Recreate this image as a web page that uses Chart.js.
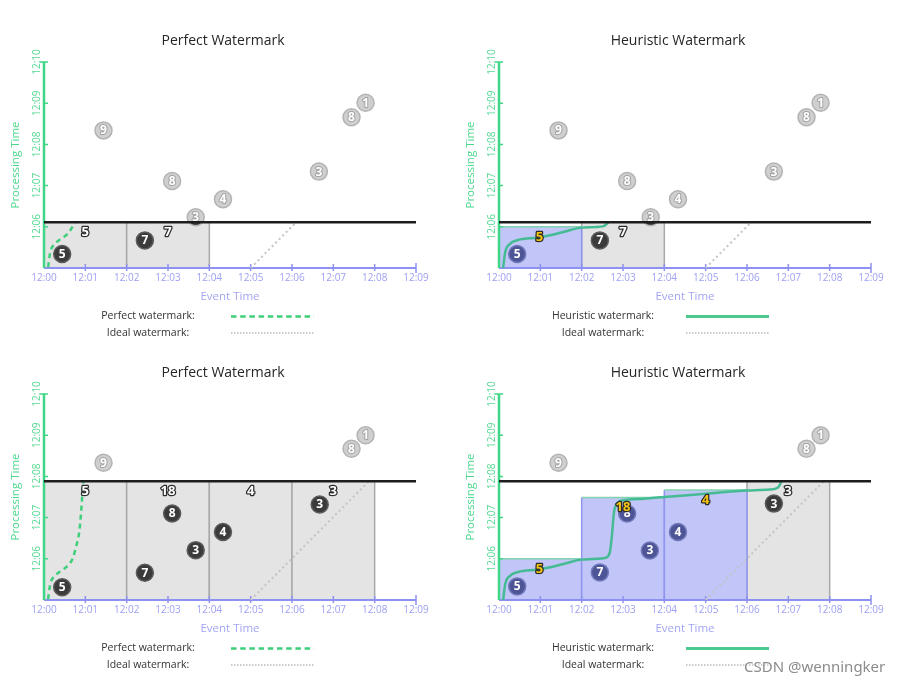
<!DOCTYPE html>
<html><head><meta charset="utf-8">
<script src="https://cdn.jsdelivr.net/npm/chart.js@4.4.1/dist/chart.umd.min.js"></script>
<style>
html,body{margin:0;padding:0;background:#fff;width:901px;height:684px;overflow:hidden;position:relative}
canvas{position:absolute}
#csdn{position:absolute;left:744px;top:656px;font:15px "Noto Sans",sans-serif;color:#8c8c8c;text-shadow:0 0 2px #fff,0 0 2px #fff;white-space:nowrap}
</style></head><body>
<canvas id="cA" width="446" height="352" style="left:0;top:0"></canvas>
<canvas id="cB" width="446" height="352" style="left:455px;top:0"></canvas>
<canvas id="cC" width="446" height="352" style="left:0;top:332px"></canvas>
<canvas id="cD" width="446" height="352" style="left:455px;top:332px"></canvas>
<div id="csdn">CSDN @wenningker</div>
<script>
const FONT = '"Open Sans","Noto Sans",sans-serif';

// Axis ticks (minutes after 12:00)
const eventTickValues = [0,1,2,3,4,5,6,7,8,9];
const eventTickLabels = ['12:00','12:01','12:02','12:03','12:04','12:05','12:06','12:07','12:08','12:09'];
const procTickValues = [6,7,8,9,10];
const procTickLabels = ['12:06','12:07','12:08','12:09','12:10'];

// ---- Panel A: Perfect Watermark (top) ----
const aWatermark = 6.11;
const aGreyX = [1.44,3.10,3.67,4.33,6.65,7.44,7.78];
const aGreyY = [8.34,7.11,6.23,6.67,7.34,8.66,9.01];
const aGreyN = ['9','8','3','4','3','8','1'];
const aDarkX = [0.44,2.44];
const aDarkY = [5.34,5.67];
const aDarkN = ['5','7'];
const aGreyWinStart = [0,2];
const aGreyWinEnd = [2,4];
const aCountX = [1,3];
const aCountY = [5.86,5.87];
const aCountText = ['5','7'];
const aCountYellow = [false,false];
const aCurveX = [0.10,0.15,0.26,0.46,0.60,0.70,0.75];
const aCurveY = [5.02,5.38,5.58,5.74,5.86,6.02,6.11];
const aIdealX = [5,6.1];
const aIdealY = [5,6.11];

// ---- Panel B: Heuristic Watermark (top) ----
const bWatermark = 6.11;
const bGreyX = [1.44,3.10,3.67,4.33,6.65,7.44,7.78];
const bGreyY = [8.34,7.11,6.23,6.67,7.34,8.66,9.01];
const bGreyN = ['9','8','3','4','3','8','1'];
const bDarkX = [2.44];
const bDarkY = [5.67];
const bDarkN = ['7'];
const bBlueX = [0.44];
const bBlueY = [5.34];
const bBlueN = ['5'];
const bGreyWinStart = [2];
const bGreyWinEnd = [4];
const bBlueWinStart = [0];
const bBlueWinEnd = [2];
const bBlueWinTop = [6.0];
const bCountX = [0.98,3];
const bCountY = [5.75,5.87];
const bCountText = ['5','7'];
const bCountYellow = [true,false];
const bCurveX = [0.10,0.15,0.26,0.46,0.94,1.51,2.01,2.52,2.65];
const bCurveY = [5.0,5.38,5.58,5.68,5.74,5.86,5.98,6.01,6.11];
const bIdealX = [5,6.1];
const bIdealY = [5,6.11];

// ---- Panel C: Perfect Watermark (bottom) ----
const cWatermark = 7.88;
const cGreyX = [1.44,7.44,7.78];
const cGreyY = [8.33,8.67,9.0];
const cGreyN = ['9','8','1'];
const cDarkX = [0.44,2.44,3.10,3.67,4.33,6.67];
const cDarkY = [5.31,5.66,7.10,6.21,6.65,7.32];
const cDarkN = ['5','7','8','3','4','3'];
const cGreyWinStart = [0,2,4,6];
const cGreyWinEnd = [2,4,6,8];
const cCountX = [1,3,5,7];
const cCountY = [7.63,7.63,7.63,7.63];
const cCountText = ['5','18','4','3'];
const cCountYellow = [false,false,false,false];
const cCurveX = [0.10,0.15,0.26,0.46,0.60,0.70,0.78,0.85,0.89,0.92,0.94,0.95];
const cCurveY = [5.02,5.38,5.58,5.74,5.86,6.02,6.31,6.63,7.03,7.44,7.76,7.86];
const cIdealX = [5,7.85];
const cIdealY = [5,7.87];

// ---- Panel D: Heuristic Watermark (bottom) ----
const dWatermark = 7.88;
const dGreyX = [1.44,7.44,7.78];
const dGreyY = [8.33,8.67,9.0];
const dGreyN = ['9','8','1'];
const dDarkX = [6.65];
const dDarkY = [7.34];
const dDarkN = ['3'];
const dBlueX = [0.44,2.44,3.10,3.65,4.33];
const dBlueY = [5.33,5.67,7.10,6.20,6.65];
const dBlueN = ['5','7','8','3','4'];
const dGreyWinStart = [6];
const dGreyWinEnd = [8];
const dBlueWinStart = [0,2,4];
const dBlueWinEnd = [2,4,6];
const dBlueWinTop = [6.0,7.49,7.67];
const dCountX = [0.98,3.0,5.0,6.99];
const dCountY = [5.75,7.24,7.42,7.63];
const dCountText = ['5','18','4','3'];
const dCountYellow = [true,true,true,false];
const dCurveX = [0.10,0.15,0.26,0.46,0.94,1.51,2.01,2.56,2.68,2.73,2.78,2.86,3.0,3.5,4.0,5.0,6.0,6.55,6.75,6.83];
const dCurveY = [5.0,5.38,5.58,5.68,5.74,5.86,5.98,6.02,6.15,6.55,7.11,7.35,7.42,7.46,7.5,7.58,7.66,7.68,7.73,7.87];
const dIdealX = [5,7.85];
const dIdealY = [5,7.87];

const COL = {
  grey:'#cfcfcf', greyBorder:'#b4b4b4',
  dark:'#3b3b3b', darkBorder:'#5c5c5c',
  blue:'#4d5597', blueBorder:'#7179ba',
  greyWin:'#e4e4e4', greyWinSide:'#a9a9a9',
  blueWin:'#c1c5f7', blueWinSide:'#9096ef', blueWinTop:'#82d3b0',
  xAxis:'#8d91f1', xText:'#9da0f3',
  yAxis:'#3fd687', yText:'#55d892',
  perfect:'#3dcf7a', heuristic:'#45bb93', ideal:'#c4c4c4', wm:'#1d1d1d'
};

function pts(xs, ys){ return xs.map((x,i)=>({x:x, y:ys[i]})); }

function bubbleSet(xs, ys, ns, kind, wm){
  const fill = COL[kind], border = COL[kind+'Border'];
  return {
    data: pts(xs,ys), nums: ns, kind: kind, showLine:false, order:4,
    pointRadius:8.5, pointHoverRadius:8.5, pointBorderWidth:1.5,
    pointBorderColor: border,
    pointBackgroundColor: function(ctx){
      if (kind !== 'grey' || ctx.type !== 'data' || !ctx.parsed) return fill;
      const ys_ = ctx.chart.scales.y;
      const py = ys_.getPixelForValue(ctx.parsed.y), wy = ys_.getPixelForValue(wm), r = 9;
      if (py - r < wy && py + r > wy) {
        const g = ctx.chart.ctx.createLinearGradient(0, py-r, 0, py+r);
        const t = (wy - (py - r)) / (2*r);
        g.addColorStop(0, fill); g.addColorStop(t, fill);
        g.addColorStop(t, COL.dark); g.addColorStop(1, COL.dark);
        return g;
      }
      return fill;
    }
  };
}

function makePanel(id, p){
  const datasets = [];
  datasets.push({data: pts(p.idealX,p.idealY), borderColor:COL.ideal, borderWidth:2, borderDash:[2,3], pointRadius:0, order:6});
  if (p.greyX) datasets.push(bubbleSet(p.greyX,p.greyY,p.greyN,'grey',p.wm));
  if (p.darkX) datasets.push(bubbleSet(p.darkX,p.darkY,p.darkN,'dark',p.wm));
  if (p.blueX) datasets.push(bubbleSet(p.blueX,p.blueY,p.blueN,'blue',p.wm));
  datasets.push({data: pts(p.curveX,p.curveY), borderColor: p.perfect ? COL.perfect : COL.heuristic,
    borderWidth: 2.5, borderDash: p.perfect ? [5,4] : [], cubicInterpolationMode:'monotone',
    pointRadius:0, order:2});
  datasets.push({data: [{x:0,y:p.wm},{x:9,y:p.wm}], borderColor:COL.wm, borderWidth:2.5, pointRadius:0, order:1});

  const plugin = {
    id:'panel'+id,
    beforeDatasetsDraw(chart){
      const ctx = chart.ctx, xs = chart.scales.x, ys = chart.scales.y;
      const b = ys.getPixelForValue(5);
      ctx.save();
      function rect(x0,x1,top,fill,side,topCol){
        const l = xs.getPixelForValue(x0), r = xs.getPixelForValue(x1), t = ys.getPixelForValue(top);
        ctx.fillStyle = fill; ctx.fillRect(l,t,r-l,b-t);
        ctx.lineWidth = 1.5; ctx.strokeStyle = side;
        ctx.beginPath(); ctx.moveTo(l,b); ctx.lineTo(l,t); ctx.moveTo(r,t); ctx.lineTo(r,b); ctx.stroke();
        if (topCol){ ctx.strokeStyle = topCol; ctx.beginPath(); ctx.moveTo(l,t); ctx.lineTo(r,t); ctx.stroke(); }
      }
      (p.greyWinStart||[]).forEach((s,i)=>rect(s,p.greyWinEnd[i],p.wm,COL.greyWin,COL.greyWinSide,null));
      (p.blueWinStart||[]).forEach((s,i)=>rect(s,p.blueWinEnd[i],p.blueWinTop[i],COL.blueWin,COL.blueWinSide,COL.blueWinTop));
      // x axis
      const x0 = xs.getPixelForValue(0), x9 = xs.getPixelForValue(9);
      ctx.strokeStyle = COL.xAxis; ctx.lineWidth = 2;
      ctx.beginPath(); ctx.moveTo(x0,b); ctx.lineTo(x9,b); ctx.stroke();
      ctx.lineWidth = 1.5; ctx.beginPath();
      eventTickValues.forEach(v=>{ if(v===0) return; const x = xs.getPixelForValue(v); ctx.moveTo(x, b-(v===9?5:4)); ctx.lineTo(x, b+(v===9?5:3)); });
      ctx.stroke();
      ctx.fillStyle = COL.xText; ctx.font = '10px '+FONT; ctx.textAlign='center'; ctx.textBaseline='middle';
      eventTickValues.forEach((v,i)=>ctx.fillText(eventTickLabels[i], xs.getPixelForValue(v), b+10.5));
      ctx.font = '11.5px '+FONT; ctx.fillStyle = '#a2a5f4';
      ctx.fillText('Event Time', (chart.chartArea.left+chart.chartArea.right)/2, b+29);
      // y axis
      const yTop = ys.getPixelForValue(10);
      ctx.strokeStyle = COL.yAxis; ctx.lineWidth = 2.5;
      ctx.beginPath(); ctx.moveTo(x0,b); ctx.lineTo(x0,yTop); ctx.stroke();
      ctx.lineWidth = 1.5; ctx.beginPath();
      procTickValues.forEach(v=>{ const y = ys.getPixelForValue(v); ctx.moveTo(x0-(v===10?4:1), y); ctx.lineTo(x0+4, y); });
      ctx.stroke();
      ctx.fillStyle = COL.yText; ctx.font = '10px '+FONT;
      procTickValues.forEach((v,i)=>{ ctx.save(); ctx.translate(x0-6.5, ys.getPixelForValue(v)); ctx.rotate(-Math.PI/2); ctx.fillText(procTickLabels[i],0,0); ctx.restore(); });
      ctx.font = '11.5px '+FONT; ctx.fillStyle = '#4bd78d';
      ctx.save(); ctx.translate(16, (yTop+b)/2); ctx.rotate(-Math.PI/2); ctx.fillText('Processing Time',0,0); ctx.restore();
      ctx.restore();
    },
    afterDatasetDraw(chart, args){
      const ds = chart.data.datasets[args.index];
      if (!ds.nums) return;
      const ctx = chart.ctx, xs = chart.scales.x, ys = chart.scales.y;
      ctx.save();
      ctx.font = 'bold 12px '+FONT; ctx.textAlign='center'; ctx.textBaseline='middle'; ctx.lineJoin='round';
      ds.data.forEach((pt,i)=>{
        const x = xs.getPixelForValue(pt.x), y = ys.getPixelForValue(pt.y) + 0.5;
        if (ds.kind === 'grey'){ ctx.strokeStyle = '#a3a3a3'; ctx.lineWidth = 2; ctx.strokeText(ds.nums[i],x,y); }
        ctx.fillStyle = '#ffffff'; ctx.fillText(ds.nums[i],x,y);
      });
      ctx.restore();
    },
    afterDatasetsDraw(chart){
      const ctx = chart.ctx, xs = chart.scales.x, ys = chart.scales.y;
      ctx.save();
      ctx.font = 'bold 13px '+FONT; ctx.textAlign='center'; ctx.textBaseline='middle'; ctx.lineJoin='round';
      p.countX.forEach((v,i)=>{
        const x = xs.getPixelForValue(v), y = ys.getPixelForValue(p.countY[i]);
        ctx.strokeStyle = '#2b2b2b'; ctx.lineWidth = 2.5; ctx.strokeText(p.countText[i],x,y);
        ctx.fillStyle = p.countYellow[i] ? '#f4c414' : '#ffffff'; ctx.fillText(p.countText[i],x,y);
      });
      ctx.restore();
    },
    afterDraw(chart){
      const ctx = chart.ctx;
      ctx.save();
      ctx.textAlign='center'; ctx.textBaseline='middle';
      ctx.fillStyle = '#262626'; ctx.font = '14px '+FONT;
      ctx.fillText(p.title, 223, 41.5);
      ctx.fillStyle = '#333'; ctx.font = '10.5px '+FONT;
      ctx.fillText(p.perfect ? 'Perfect watermark:' : 'Heuristic watermark:', 148, 316.5);
      ctx.fillText('Ideal watermark:', 148, 333);
      ctx.beginPath(); ctx.moveTo(231,316.5); ctx.lineTo(314,316.5);
      if (p.perfect){ ctx.strokeStyle = COL.perfect; ctx.lineWidth = 2.5; ctx.setLineDash([5.5,3.7]); }
      else { ctx.strokeStyle = '#4cc98f'; ctx.lineWidth = 3; ctx.setLineDash([]); }
      ctx.stroke();
      ctx.beginPath(); ctx.moveTo(231,333); ctx.lineTo(314,333);
      ctx.strokeStyle = '#cacaca'; ctx.lineWidth = 2; ctx.setLineDash([1.5,1.5]); ctx.stroke();
      ctx.restore();
    }
  };

  return new Chart(document.getElementById(id), {
    type:'line',
    data:{datasets: datasets},
    options:{
      responsive:false, animation:false, events:[],
      layout:{padding:{left:44,right:30,top:62,bottom:84}},
      plugins:{legend:{display:false}, tooltip:{enabled:false}, title:{display:false}},
      scales:{
        x:{type:'linear', min:0, max:9, display:false},
        y:{type:'linear', min:5, max:10, display:false}
      },
      elements:{line:{fill:false}}
    },
    plugins:[plugin]
  });
}

makePanel('cA', {title:'Perfect Watermark', perfect:true, wm:aWatermark,
  greyX:aGreyX, greyY:aGreyY, greyN:aGreyN, darkX:aDarkX, darkY:aDarkY, darkN:aDarkN,
  greyWinStart:aGreyWinStart, greyWinEnd:aGreyWinEnd,
  countX:aCountX, countY:aCountY, countText:aCountText, countYellow:aCountYellow,
  curveX:aCurveX, curveY:aCurveY, idealX:aIdealX, idealY:aIdealY});
makePanel('cB', {title:'Heuristic Watermark', perfect:false, wm:bWatermark,
  greyX:bGreyX, greyY:bGreyY, greyN:bGreyN, darkX:bDarkX, darkY:bDarkY, darkN:bDarkN,
  blueX:bBlueX, blueY:bBlueY, blueN:bBlueN,
  greyWinStart:bGreyWinStart, greyWinEnd:bGreyWinEnd,
  blueWinStart:bBlueWinStart, blueWinEnd:bBlueWinEnd, blueWinTop:bBlueWinTop,
  countX:bCountX, countY:bCountY, countText:bCountText, countYellow:bCountYellow,
  curveX:bCurveX, curveY:bCurveY, idealX:bIdealX, idealY:bIdealY});
makePanel('cC', {title:'Perfect Watermark', perfect:true, wm:cWatermark,
  greyX:cGreyX, greyY:cGreyY, greyN:cGreyN, darkX:cDarkX, darkY:cDarkY, darkN:cDarkN,
  greyWinStart:cGreyWinStart, greyWinEnd:cGreyWinEnd,
  countX:cCountX, countY:cCountY, countText:cCountText, countYellow:cCountYellow,
  curveX:cCurveX, curveY:cCurveY, idealX:cIdealX, idealY:cIdealY});
makePanel('cD', {title:'Heuristic Watermark', perfect:false, wm:dWatermark,
  greyX:dGreyX, greyY:dGreyY, greyN:dGreyN, darkX:dDarkX, darkY:dDarkY, darkN:dDarkN,
  blueX:dBlueX, blueY:dBlueY, blueN:dBlueN,
  greyWinStart:dGreyWinStart, greyWinEnd:dGreyWinEnd,
  blueWinStart:dBlueWinStart, blueWinEnd:dBlueWinEnd, blueWinTop:dBlueWinTop,
  countX:dCountX, countY:dCountY, countText:dCountText, countYellow:dCountYellow,
  curveX:dCurveX, curveY:dCurveY, idealX:dIdealX, idealY:dIdealY});
</script>
</body></html>
